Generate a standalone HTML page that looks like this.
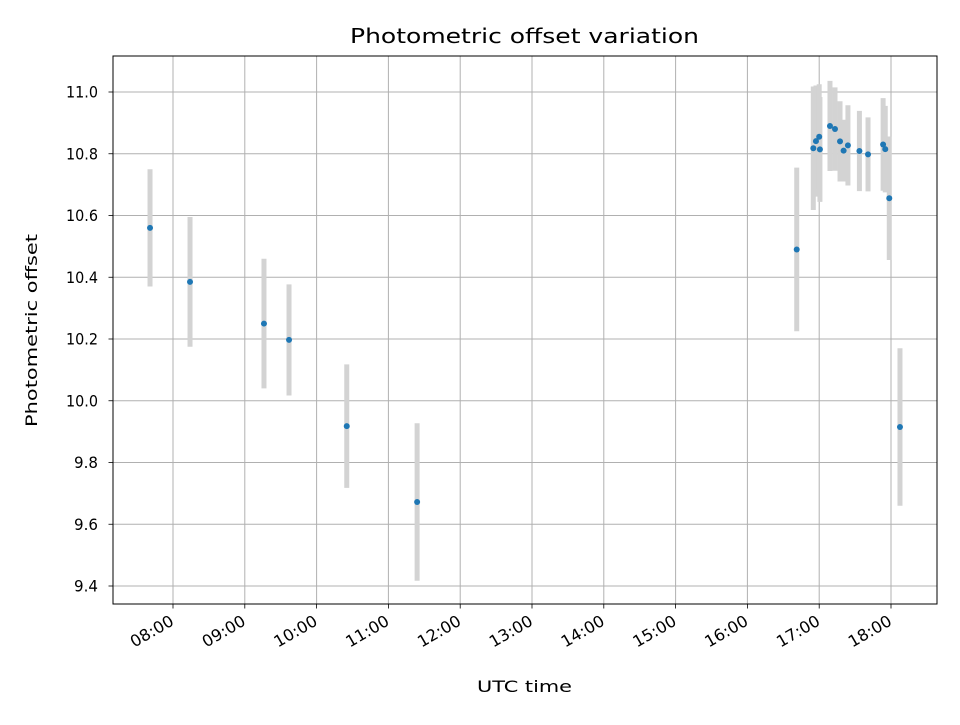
<!DOCTYPE html>
<html><head><meta charset="utf-8"><style>
body{margin:0;background:#fff;}
svg text{font-family:"DejaVu Sans","Liberation Sans",sans-serif;fill:#000;}
</style></head><body>
<svg id="c" width="960" height="720" xmlns="http://www.w3.org/2000/svg"></svg>
<script>
const times=[7.68,8.237,9.267,9.616,10.42,11.40,16.687,16.918,16.955,17.0,17.01,17.15,17.22,17.29,17.34,17.40,17.56,17.68,17.89,17.92,17.976,18.125];
const offsets=[10.56,10.385,10.25,10.197,9.918,9.672,10.49,10.818,10.841,10.855,10.814,10.89,10.88,10.84,10.81,10.827,10.809,10.798,10.83,10.815,10.656,9.915];
const errors=[0.19,0.21,0.21,0.18,0.2,0.255,0.265,0.2,0.18,0.17,0.17,0.146,0.135,0.13,0.1,0.13,0.13,0.12,0.15,0.14,0.2,0.255];
const xTicks=[8,9,10,11,12,13,14,15,16,17,18];
const xTickLabels=["08:00","09:00","10:00","11:00","12:00","13:00","14:00","15:00","16:00","17:00","18:00"];
const yTicks=[9.4,9.6,9.8,10.0,10.2,10.4,10.6,10.8,11.0];
const yTickLabels=["9.4","9.6","9.8","10.0","10.2","10.4","10.6","10.8","11.0"];
const L=113,R=937,T=56,B=604;
const X=h=>173+(h-8)*71.8;
const Y=v=>92+(11.0-v)*308.75;
const svg=document.getElementById('c');
const NS='http://www.w3.org/2000/svg';
function mk(tag,attrs,name,parent){const e=document.createElementNS(NS,tag);for(const k in attrs)e.setAttribute(k,attrs[k]);


(parent||svg).appendChild(e);return e;}
const grid=mk('g',{},'grid');
xTicks.forEach((t,i)=>{const x=X(t);
mk('line',{x1:x,x2:x,y1:T,y2:B,stroke:'#b0b0b0','stroke-width':1},'x-gridline',grid);
mk('line',{x1:x,x2:x,y1:B,y2:B+4.5,stroke:'#000','stroke-width':0.8},'x-tick',grid);
const tx=mk('text',{x:x-1,y:B+21,'font-size':16,'text-anchor':'end',textLength:47,lengthAdjust:'spacingAndGlyphs',transform:`rotate(-30 ${x-1} ${B+15})`},'x-tick-label',grid);tx.textContent=xTickLabels[i];});
yTicks.forEach((t,i)=>{const y=Y(t);
mk('line',{x1:L,x2:R,y1:y,y2:y,stroke:'#b0b0b0','stroke-width':1},'y-gridline',grid);
mk('line',{x1:L-4.5,x2:L,y1:y,y2:y,stroke:'#000','stroke-width':0.8},'y-tick',grid);
const tx=mk('text',{x:L-15,y:y+5.5,'font-size':16,'text-anchor':'end',textLength:yTickLabels[i].length>3?32:24,lengthAdjust:'spacingAndGlyphs'},'y-tick-label',grid);tx.textContent=yTickLabels[i];});
const bars=mk('g',{},'error-bars');
times.forEach((t,i)=>{mk('line',{x1:X(t),x2:X(t),y1:Y(offsets[i]+errors[i]),y2:Y(offsets[i]-errors[i]),stroke:'#d3d3d3','stroke-width':5},'error-bar',bars);});
const pts=mk('g',{},'data-points');
times.forEach((t,i)=>{mk('circle',{cx:X(t),cy:Y(offsets[i]),r:3,fill:'#1f77b4'},'data-point',pts);});
mk('rect',{x:L,y:T,width:R-L,height:B-T,fill:'none',stroke:'#000','stroke-width':1},'plot-frame');
let t=mk('text',{x:350,y:43,'font-size':20,textLength:349,lengthAdjust:'spacingAndGlyphs'},'chart-title');t.textContent='Photometric offset variation';
t=mk('text',{x:477,y:692,'font-size':16,textLength:95,lengthAdjust:'spacingAndGlyphs'},'x-axis-title');t.textContent='UTC time';
t=mk('text',{x:37,y:427,'font-size':16,textLength:193,lengthAdjust:'spacingAndGlyphs',transform:'rotate(-90 37 427)'},'y-axis-title');t.textContent='Photometric offset';
</script>
</body></html>
